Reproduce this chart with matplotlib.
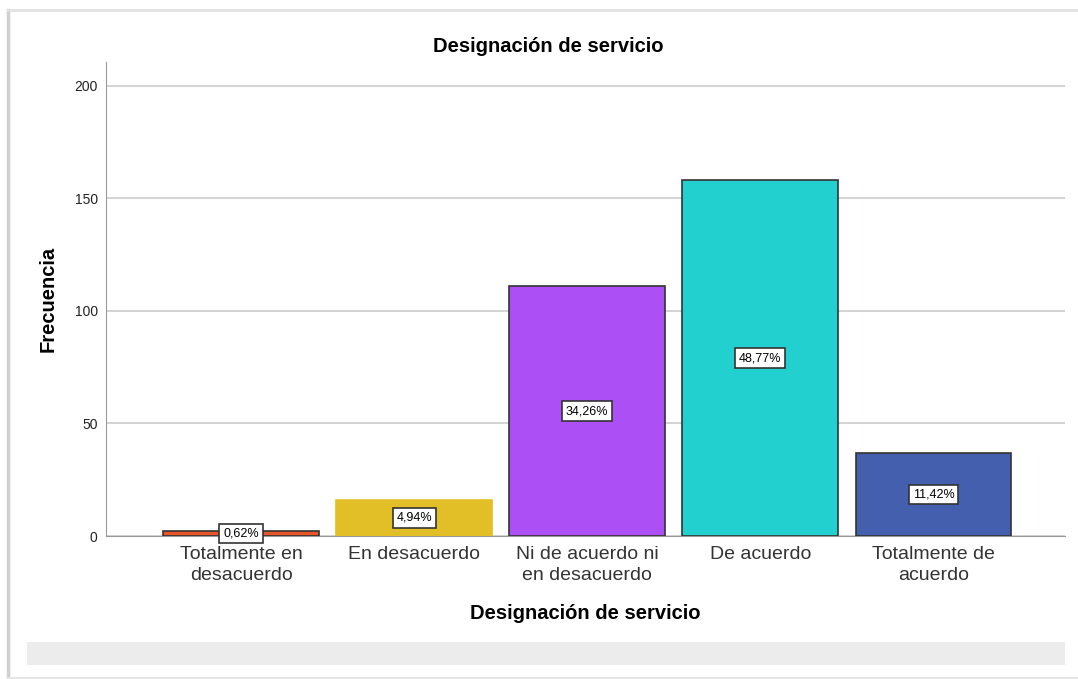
import matplotlib.pyplot as plt
import matplotlib.patches as mpatches
from matplotlib.lines import Line2D

categorias = ["Totalmente en\ndesacuerdo", "En desacuerdo", "Ni de acuerdo ni\nen desacuerdo",
              "De acuerdo", "Totalmente de\nacuerdo"]
frecuencias = [2, 16, 111, 158, 37]
porcentajes = ["0,62%", "4,94%", "34,26%", "48,77%", "11,42%"]
colores = ["#E8552B", "#E3BF27", "#AC4FF5", "#22D1CF", "#435FAE"]
bordes = ["#333333", "#E3BF27", "#333333", "#333333", "#333333"]
yticks = [0, 50, 100, 150, 200]

plt.rcParams['font.family'] = ['Liberation Sans', 'DejaVu Sans']

W, H = 1078, 679
fig = plt.figure(figsize=(W/100, H/100), dpi=100)

# marco del visor (sombra izquierda y superior) y banda gris inferior
fig.lines.append(Line2D([8/W, 8/W], [0, 1-10/H], transform=fig.transFigure, color="#cfcfcf", linewidth=2.5))
fig.lines.append(Line2D([8/W, 1], [1-10/H, 1-10/H], transform=fig.transFigure, color="#e2e2e2", linewidth=2))
fig.lines.append(Line2D([8/W, 1], [1-678/H, 1-678/H], transform=fig.transFigure, color="#e6e6e6", linewidth=1.5))
fig.patches.append(mpatches.Rectangle((27/W, 1-665/H), 1038/W, 23/H, transform=fig.transFigure,
                                      facecolor="#ececec", edgecolor="none"))

ax = fig.add_axes([106/W, 1-536/H, (1065-106)/W, (536-62)/H])
x = range(len(categorias))
ax.bar(x, frecuencias, width=0.9, color=colores, edgecolor=bordes, linewidth=1.2, zorder=3)

for i in x:
    ax.text(i, frecuencias[i]/2, porcentajes[i], ha="center", va="center", fontsize=9, zorder=4,
            bbox=dict(boxstyle="square,pad=0.3", facecolor="white", edgecolor="#333333", linewidth=1.2))

ax.set_xlim(-0.78, 4.76)
ax.set_ylim(0, 210.5)
ax.set_yticks(yticks)
ax.set_xticks(list(x))
ax.set_xticklabels(categorias, fontsize=14, color="#333333", linespacing=1.35)
ax.tick_params(axis="y", labelsize=10, length=0, pad=6, labelcolor="#222222")
ax.tick_params(axis="x", length=0, pad=7)
ax.grid(axis="y", color="#cccccc", linewidth=1.2, zorder=0)
for s in ["top", "right"]:
    ax.spines[s].set_visible(False)
ax.spines["left"].set_color("#999999")
ax.spines["bottom"].set_color("#999999")

fig.text(548/W, 1-46/H, "Designación de servicio", fontsize=14.5, fontweight="bold", ha="center", va="center")
ax.set_xlabel("Designación de servicio", fontsize=14.5, fontweight="bold", labelpad=14)
ax.set_ylabel("Frecuencia", fontsize=14.5, fontweight="bold", labelpad=12)

fig.savefig("out.png", dpi=100)
